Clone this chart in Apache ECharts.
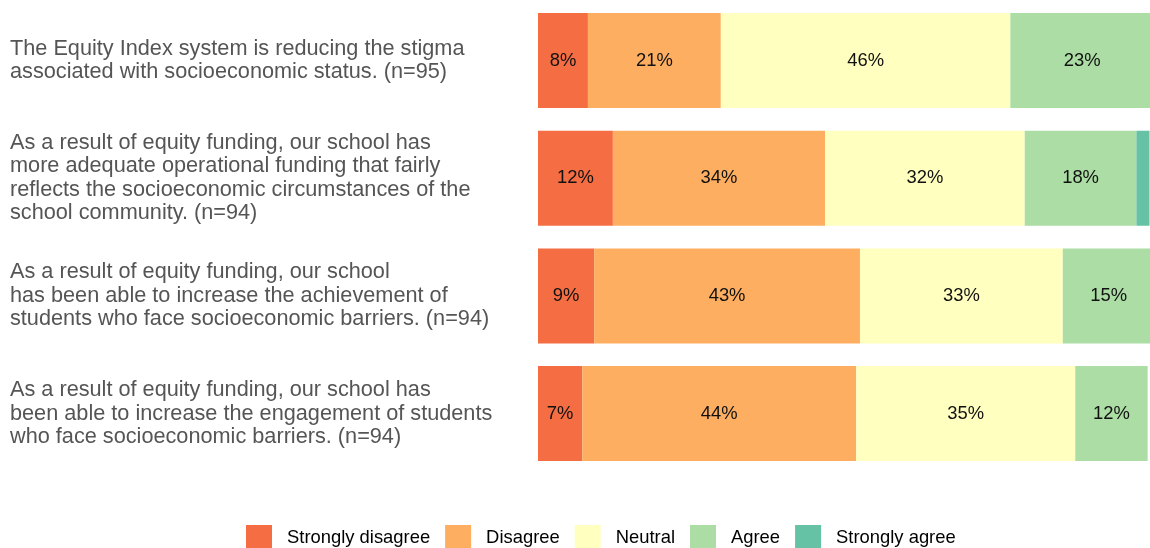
<!DOCTYPE html>
<html><head><meta charset="utf-8">
<script src="https://cdn.jsdelivr.net/npm/echarts@6/dist/echarts.min.js"></script>
<style>html,body{margin:0;padding:0;background:#fff}#c{width:1150px;height:548px}</style>
</head><body><div id="c"></div>
<script>
const categories = [
  "The Equity Index system is reducing the stigma\nassociated with socioeconomic status. (n=95)",
  "As a result of equity funding, our school has\nmore adequate operational funding that fairly\nreflects the socioeconomic circumstances of the\nschool community. (n=94)",
  "As a result of equity funding, our school\nhas been able to increase the achievement of\nstudents who face socioeconomic barriers. (n=94)",
  "As a result of equity funding, our school has\nbeen able to increase the engagement of students\nwho face socioeconomic barriers. (n=94)"
];
const seriesNames = ["Strongly disagree", "Disagree", "Neutral", "Agree", "Strongly agree"];
const stronglyDisagree = [8.0, 12.0, 9.0, 7.1];
const disagree = [21.3, 34.0, 42.6, 43.9];
const neutral = [46.4, 32.0, 32.5, 35.1];
const agree = [23.0, 17.9, 14.7, 11.6];
const stronglyAgree = [0, 2.1, 0, 0];
const colors = ["#f46d43", "#fdae61", "#ffffbf", "#abdda4", "#66c2a5"];

const allData = [stronglyDisagree, disagree, neutral, agree, stronglyAgree];
const chart = echarts.init(document.getElementById('c'));
chart.setOption({
  animation: false,
  grid: { left: 538, width: 624, top: 1.7, bottom: 75.6, containLabel: false, outerBoundsMode: 'none' },
  legend: {
    data: seriesNames,
    top: 520, left: 241,
    itemWidth: 26, itemHeight: 26, itemGap: 15,
    icon: 'rect',
    textStyle: { fontFamily: 'Liberation Sans, Arial, sans-serif', fontSize: 18.4, color: '#000', padding: [12, 0, 0, 10] }
  },
  xAxis: { type: 'value', min: 0, max: 100, show: false },
  yAxis: {
    type: 'category', data: categories, inverse: true,
    axisLine: { show: false }, axisTick: { show: false },
    axisLabel: {
      align: 'left', margin: 528, color: '#555',
      fontFamily: 'Liberation Sans, Arial, sans-serif', fontSize: 21.7, lineHeight: 23.4,
      padding: [5, 0, 0, 0]
    }
  },
  series: seriesNames.map((name, i) => ({
    name, type: 'bar', stack: 'total', barWidth: 95, clip: false,
    data: allData[i],
    itemStyle: { color: colors[i] },
    label: {
      show: true, position: 'inside', color: '#111',
      fontFamily: 'Liberation Sans, Arial, sans-serif', fontSize: 18.4,
      formatter: p => p.value >= 3 ? Math.round(p.value) + '%' : ''
    }
  }))
});
</script></body></html>
